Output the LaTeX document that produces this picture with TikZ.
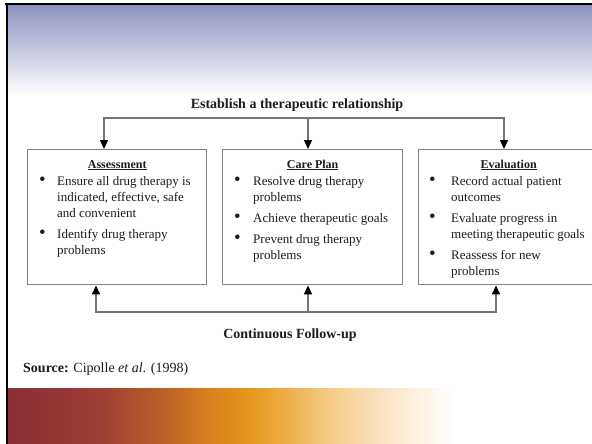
\documentclass[tikz,border=0pt]{standalone}
\usepackage{fontspec}
\setmainfont{Liberation Serif}
\usetikzlibrary{arrows.meta}
\definecolor{topc}{HTML}{8E92C0}
\definecolor{midc}{HTML}{C9CAE3}
\definecolor{linegray}{HTML}{767676}
\definecolor{boxgray}{HTML}{808080}
\definecolor{txt}{HTML}{1C1C1C}
\newcommand{\bigbul}{\raisebox{-0.6pt}{\scalebox{1.45}{\textbullet}}}
\pgfdeclarehorizontalshading{bandshade}{100bp}{%
  rgb(0bp)=(0.541,0.180,0.216);
  rgb(25bp)=(0.541,0.180,0.216);
  rgb(32.9bp)=(0.612,0.247,0.2);
  rgb(38bp)=(0.722,0.376,0.165);
  rgb(42.7bp)=(0.851,0.518,0.110);
  rgb(45.5bp)=(0.894,0.588,0.110);
  rgb(48bp)=(0.925,0.659,0.227);
  rgb(51.7bp)=(0.953,0.769,0.478);
  rgb(56bp)=(0.976,0.875,0.71);
  rgb(60.3bp)=(0.992,0.953,0.894);
  rgb(63.2bp)=(1,1,1);
  rgb(100bp)=(1,1,1)}
\begin{document}
\begin{tikzpicture}[x=1pt,y=-1pt,
  boxst/.style={draw=boxgray, line width=1.4pt, minimum width=179pt, minimum height=135pt, inner sep=0pt, anchor=north west},
  head/.style={font=\fontsize{12}{14}\selectfont\bfseries, text=txt, anchor=base, inner sep=0pt},
  lst/.style={font=\fontsize{13}{16}\selectfont, text=txt, anchor=north west, inner sep=0pt},
  conn/.style={draw=linegray, line width=1.3pt},
  arr/.style={conn, -{Triangle[width=8pt,length=9pt,color=black]}},
  lbl/.style={font=\fontsize{14}{16}\selectfont\bfseries, text=txt, anchor=base, inner sep=0pt}]
\path[use as bounding box] (0,0) rectangle (592,444);
\clip (0,0) rectangle (592,444);
\fill[white] (0,0) rectangle (592,444);
% header band
\shade[top color=topc, middle color=midc, bottom color=white] (8,5) rectangle (592,95);
% bottom band
\shade[shading=bandshade] (8,388) rectangle (592,444);
% frame lines
\draw[black, line width=2pt] (5,4) -- (592,4);
\draw[black, line width=2.5pt] (7,4) -- (7,444);
% boxes
\node[boxst] (b1) at (27,149) {};
\node[boxst, minimum width=180pt] (b2) at (222,149) {};
\node[boxst, minimum width=180pt] (b3) at (418,149) {};
% headings
\node[head] (h1) at ([yshift=-19pt]b1.north) {\underline{Assessment}};
\node[head] (h2) at ([yshift=-19pt]b2.north) {\underline{Care Plan}};
\node[head] (h3) at ([yshift=-19pt]b3.north) {\underline{Evaluation}};
% lists
\node[lst] (l1) at ([xshift=12pt,yshift=-24.8pt]b1.north west) {%
\begin{tabular}{@{}p{18pt}@{}l@{}}
\bigbul & Ensure all drug therapy is\\
 & indicated, effective, safe\\
 & and convenient\\[5pt]
\bigbul & Identify drug therapy\\
 & problems
\end{tabular}};
\node[lst] (l2) at ([xshift=12pt,yshift=-24.8pt]b2.north west) {%
\begin{tabular}{@{}p{19pt}@{}l@{}}
\bigbul & Resolve drug therapy\\
 & problems\\[5pt]
\bigbul & Achieve therapeutic goals\\[5pt]
\bigbul & Prevent drug therapy\\
 & problems
\end{tabular}};
\node[lst] (l3) at ([xshift=11pt,yshift=-24.8pt]b3.north west) {%
\begin{tabular}{@{}p{22pt}@{}l@{}}
\bigbul & Record actual patient\\
 & outcomes\\[5pt]
\bigbul & Evaluate progress in\\
 & meeting therapeutic goals\\[5pt]
\bigbul & Reassess for new\\
 & problems
\end{tabular}};
% labels
\node[lbl] (title) at (297,108.5) {Establish a therapeutic relationship};
\node[lbl] (follow) at (290,338) {Continuous Follow-up};
\node[anchor=base west, inner sep=0pt, font=\fontsize{14}{16}\selectfont, text=txt] (src) at (23,372) {\textbf{Source:} Cipolle \textit{et al}. (1998)};
% connectors top
\coordinate (t1) at (104,118);
\coordinate (t2) at (308,118);
\coordinate (t3) at (504,118);
\draw[arr] (t2) -| (t1 |- b1.north);
\draw[arr] (t2) -| (t3 |- b3.north);
\draw[arr] (t2) -- (t2 |- b2.north);
% connectors bottom
\coordinate (u1) at (96,312);
\coordinate (u2) at (308,312);
\coordinate (u3) at (496,312);
\draw[arr] (u2) -| (u1 |- b1.south);
\draw[arr] (u2) -| (u3 |- b3.south);
\draw[arr] (u2) -- (u2 |- b2.south);
\end{tikzpicture}
\end{document}
